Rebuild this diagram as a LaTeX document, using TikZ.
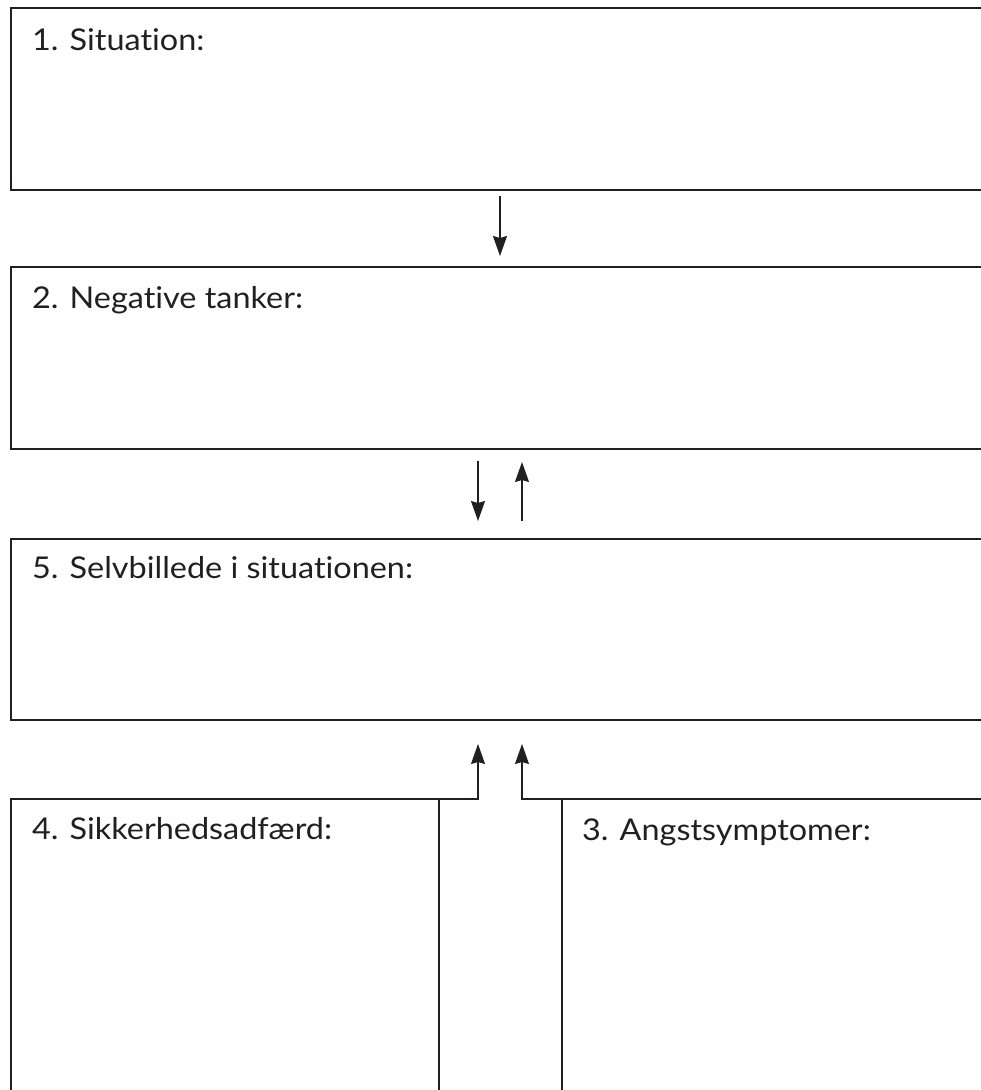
\documentclass[tikz,border=0pt]{standalone}
\usepackage{fontspec}
\setmainfont{Lato}[Ligatures={NoCommon,NoRequired,NoContextual,NoDiscretionary}, FakeStretch=1.08]
\usetikzlibrary{arrows.meta}
\definecolor{ink}{HTML}{231F20}
\tikzset{
  box/.style={draw=ink, line width=1.8pt, rectangle, inner sep=0pt, outer sep=0pt, anchor=north west},
  lbl/.style={anchor=base west, inner sep=0pt, text=ink, font=\fontsize{30pt}{36pt}\selectfont},
  arr/.style={draw=ink, line width=1.5pt, -{Stealth[length=20pt,width=14pt,inset=2pt]}},
}
\begin{document}
\begin{tikzpicture}[x=1pt,y=-1pt]
\useasboundingbox (0,0) rectangle (981,1090);
\clip (0,0) rectangle (981,1090);
\fill[white] (0,0) rectangle (981,1090);
% boxes
\node[box, minimum width=1000pt, minimum height=182pt] (box1) at (11,8) {};
\node[box, minimum width=1000pt, minimum height=182pt] (box2) at (11,267) {};
\node[box, minimum width=1000pt, minimum height=181pt] (box5) at (11,539) {};
\node[box, minimum width=428pt, minimum height=400pt] (box4) at (11,799) {};
\node[box, minimum width=450pt, minimum height=400pt] (box3) at (562,799) {};
% labels
\node[lbl] (t1) at ([xshift=21pt,yshift=-42pt]box1.north west) {1. Situation:};
\node[lbl] (t2) at ([xshift=21pt,yshift=-41pt]box2.north west) {2. Negative tanker:};
\node[lbl] (t5) at ([xshift=21pt,yshift=-39pt]box5.north west) {5. Selvbillede i situationen:};
\node[lbl] (t4) at ([xshift=21pt,yshift=-40pt]box4.north west) {4. Sikkerhedsadfærd:};
\node[lbl] (t3) at ([xshift=20pt,yshift=-41pt]box3.north west) {3. Angstsymptomer:};
% arrow x positions
\coordinate (xa) at (500,0);
\coordinate (xl) at (478,0);
\coordinate (xr) at (522,0);
\coordinate (c4) at (478,744);
\coordinate (c3) at (522,744);
% connectors
\draw[arr, shorten <=6pt, shorten >=11pt] (box1.south -| xa) -- (box2.north -| xa);
\draw[arr, shorten <=12pt, shorten >=18pt] (box2.south -| xl) -- (box5.north -| xl);
\draw[arr, shorten <=18pt, shorten >=13pt] (box5.north -| xr) -- (box2.south -| xr);
\draw[arr] (box4.north east) -| (c4);
\draw[arr] (box3.north west) -| (c3);
\end{tikzpicture}
\end{document}
